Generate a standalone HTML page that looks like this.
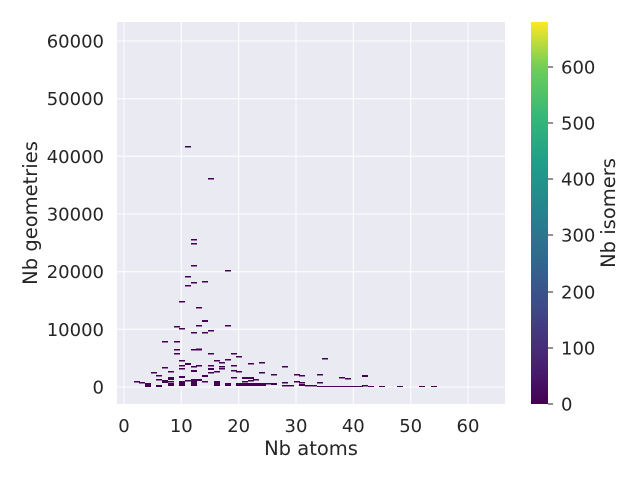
<!DOCTYPE html>
<html><head><style>body{margin:0;background:#fff}svg{display:block;font-family:"DejaVu Sans","Liberation Sans",sans-serif}</style></head><body>
<svg width="640" height="480" xmlns="http://www.w3.org/2000/svg">
<defs><linearGradient id="v" x1="0" y1="1" x2="0" y2="0">
<stop offset="0" stop-color="#440154"/><stop offset="0.13" stop-color="#482878"/><stop offset="0.25" stop-color="#3e4989"/><stop offset="0.38" stop-color="#31688e"/><stop offset="0.5" stop-color="#26828e"/><stop offset="0.63" stop-color="#1f9e89"/><stop offset="0.75" stop-color="#35b779"/><stop offset="0.88" stop-color="#6ece58"/><stop offset="1" stop-color="#fde725"/></linearGradient></defs>
<rect x="117" y="22" width="388" height="382" fill="#eaeaf2"/>
<g stroke="#fff" stroke-width="1">
<line x1="124" y1="22" x2="124" y2="404"/><line x1="181.3" y1="22" x2="181.3" y2="404"/><line x1="238.7" y1="22" x2="238.7" y2="404"/><line x1="296" y1="22" x2="296" y2="404"/><line x1="353.3" y1="22" x2="353.3" y2="404"/><line x1="410.7" y1="22" x2="410.7" y2="404"/><line x1="468" y1="22" x2="468" y2="404"/>
<line x1="117" y1="387" x2="505" y2="387"/><line x1="117" y1="329.3" x2="505" y2="329.3"/><line x1="117" y1="271.7" x2="505" y2="271.7"/><line x1="117" y1="214" x2="505" y2="214"/><line x1="117" y1="156.3" x2="505" y2="156.3"/><line x1="117" y1="98.7" x2="505" y2="98.7"/><line x1="117" y1="41" x2="505" y2="41"/>
</g>
<g fill="#440154">
<rect x="185" y="146" width="6" height="1.5"/><rect x="208" y="178" width="6" height="1.5"/><rect x="191" y="239" width="6" height="1.5"/><rect x="191" y="243" width="6" height="1.5"/><rect x="191" y="265" width="6" height="1.5"/><rect x="225" y="270" width="6" height="1.5"/><rect x="185" y="276" width="6" height="1.5"/><rect x="191" y="282" width="6" height="1.5"/><rect x="202" y="281" width="6" height="1.5"/><rect x="185" y="285" width="6" height="1.5"/><rect x="179" y="301" width="6" height="1.5"/><rect x="196" y="307" width="6" height="1.5"/>
<rect x="202" y="320" width="6" height="2"/><rect x="196" y="325" width="6" height="1.5"/><rect x="225" y="325" width="6" height="1.5"/><rect x="174" y="326" width="6" height="1.5"/><rect x="179" y="328" width="6" height="1.5"/><rect x="208" y="330" width="6" height="1.5"/><rect x="191" y="332" width="6" height="1.5"/><rect x="202" y="332" width="6" height="1.5"/>
<rect x="162" y="341" width="6" height="1.5"/><rect x="174" y="341" width="6" height="1.5"/><rect x="174" y="349" width="6" height="1.5"/><rect x="191" y="349" width="6" height="1.5"/><rect x="196" y="348.5" width="6" height="2"/><rect x="174" y="353" width="6" height="1.5"/><rect x="208" y="353" width="6" height="1.5"/><rect x="231" y="353" width="6" height="1.5"/><rect x="236" y="356" width="6" height="1.5"/><rect x="322" y="358" width="6" height="1.5"/>
<rect x="179" y="360" width="6" height="1.5"/><rect x="214" y="360" width="6" height="1.5"/><rect x="225" y="359" width="6" height="1.5"/><rect x="185" y="363" width="6" height="2"/><rect x="219" y="362" width="6" height="1.5"/><rect x="248" y="363" width="6" height="1.5"/><rect x="259" y="362" width="6" height="1.5"/>
<rect x="179" y="365" width="6" height="1.5"/><rect x="191" y="366" width="6" height="1.5"/><rect x="196" y="365" width="6" height="1.5"/><rect x="208" y="365" width="6" height="1.5"/><rect x="219" y="366" width="6" height="1.5"/><rect x="231" y="365" width="6" height="1.5"/>
<rect x="162" y="367" width="6" height="1.5"/><rect x="179" y="368" width="6" height="1.5"/><rect x="208" y="368" width="6" height="2"/><rect x="219" y="368" width="6" height="1.5"/><rect x="282" y="366" width="6" height="1.5"/>
<rect x="191" y="370" width="6" height="2"/><rect x="168" y="371" width="6" height="1.5"/><rect x="214" y="371" width="6" height="1.5"/><rect x="231" y="370" width="6" height="1.5"/><rect x="236" y="371" width="6" height="1.5"/><rect x="151" y="372" width="6" height="1.5"/><rect x="208" y="372" width="6" height="1.5"/><rect x="259" y="372" width="6" height="1.5"/>
<rect x="271" y="374" width="6" height="1.5"/><rect x="294" y="374" width="6" height="1.5"/><rect x="299" y="375" width="6" height="1.5"/><rect x="317" y="374" width="6" height="1.5"/><rect x="362" y="375" width="6" height="2"/><rect x="156" y="375" width="6" height="1.5"/><rect x="179" y="376" width="6" height="2"/><rect x="202" y="375" width="6" height="2"/>
<rect x="168" y="377" width="6" height="3"/><rect x="231" y="377" width="6" height="1.5"/><rect x="242" y="377" width="12" height="2"/><rect x="339" y="377" width="6" height="1.5"/><rect x="345" y="378" width="6" height="1.5"/>
<rect x="134" y="381" width="6" height="1.5"/><rect x="139" y="382" width="6" height="1.5"/><rect x="156" y="379" width="6" height="1.5"/><rect x="162" y="380" width="6" height="3"/><rect x="168" y="381" width="6" height="1.5"/><rect x="179" y="381" width="6" height="3"/><rect x="185" y="380" width="6" height="1.5"/><rect x="191" y="379" width="6" height="3"/><rect x="196" y="379" width="6" height="2"/><rect x="202" y="381" width="6" height="1.5"/><rect x="214" y="381" width="6" height="3"/><rect x="242" y="381" width="6" height="1.5"/><rect x="248" y="380" width="6" height="1.5"/><rect x="253" y="379" width="6" height="1.5"/><rect x="282" y="382" width="6" height="1.5"/><rect x="294" y="381" width="6" height="1.5"/><rect x="299" y="382" width="6" height="1.5"/><rect x="317" y="382" width="6" height="1.5"/>
<rect x="145" y="383" width="6" height="4"/><rect x="156" y="385" width="6" height="2"/><rect x="168" y="383" width="6" height="3"/><rect x="179" y="382" width="6" height="4"/><rect x="191" y="382" width="6" height="4"/><rect x="214" y="382" width="6" height="4"/><rect x="225" y="383" width="6" height="3"/><rect x="236" y="383" width="30" height="3"/><rect x="259" y="384" width="6" height="1.5"/><rect x="265" y="383" width="6" height="1.5"/><rect x="271" y="383" width="6" height="2"/><rect x="282" y="385" width="12" height="1.5"/><rect x="299" y="384" width="6" height="2"/><rect x="305" y="385" width="12" height="1.5"/><rect x="317" y="386" width="46" height="1"/><rect x="362" y="385" width="6" height="1.5"/><rect x="368" y="386" width="6" height="1"/><rect x="379" y="386" width="6" height="1"/><rect x="397" y="386" width="6" height="1"/><rect x="419" y="386" width="6" height="1"/><rect x="431" y="386" width="6" height="1"/>
</g>
<g font-size="18" fill="#262626">
<g text-anchor="middle"><text x="124" y="432">0</text><text x="181.3" y="432">10</text><text x="238.7" y="432">20</text><text x="296" y="432">30</text><text x="353.3" y="432">40</text><text x="410.7" y="432">50</text><text x="468" y="432">60</text>
<text x="311" y="455" font-size="19.5">Nb atoms</text></g>
<g text-anchor="end"><text x="104" y="393.5">0</text><text x="104" y="336">10000</text><text x="104" y="278">20000</text><text x="104" y="220.5">30000</text><text x="104" y="163">40000</text><text x="104" y="105">50000</text><text x="104" y="47.5">60000</text></g>
<text transform="translate(37,213) rotate(-90)" text-anchor="middle" font-size="19.5">Nb geometries</text>
<rect x="531" y="22" width="17" height="382" fill="url(#v)"/>
<g text-anchor="start"><text x="561" y="410.5">0</text><text x="561" y="354.5">100</text><text x="561" y="298.5">200</text><text x="561" y="241.5">300</text><text x="561" y="185.5">400</text><text x="561" y="129.5">500</text><text x="561" y="73.5">600</text></g>
<text transform="translate(615,213) rotate(-90)" text-anchor="middle" font-size="19.5">Nb isomers</text>
</g>
<g stroke="#262626"><line x1="548" y1="404" x2="553" y2="404"/><line x1="548" y1="348" x2="553" y2="348"/><line x1="548" y1="292" x2="553" y2="292"/><line x1="548" y1="235" x2="553" y2="235"/><line x1="548" y1="179" x2="553" y2="179"/><line x1="548" y1="123" x2="553" y2="123"/><line x1="548" y1="67" x2="553" y2="67"/></g>
</svg>
</body></html>
